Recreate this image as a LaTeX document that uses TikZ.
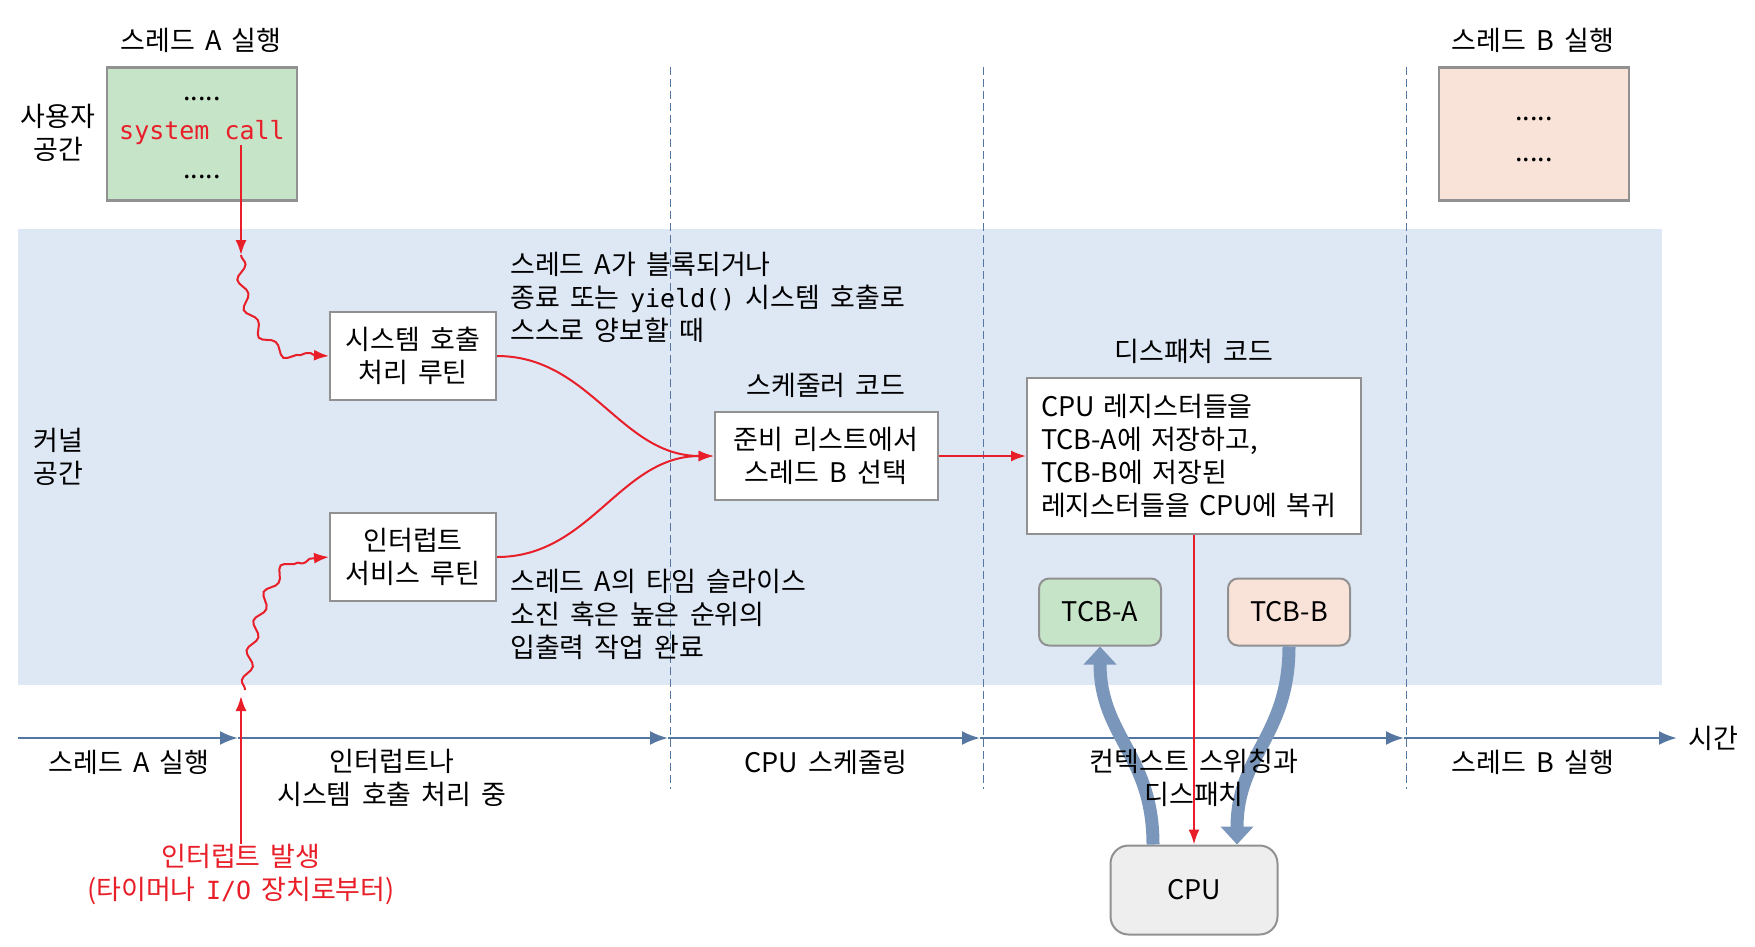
\documentclass[tikz,border=0pt]{standalone}
\usepackage{fontspec}
\setmainfont{Noto Sans CJK KR}[WordSpace=1.7]
\setmonofont{DejaVu Sans Mono}[Scale=0.926]
\usetikzlibrary{arrows.meta}
\usetikzlibrary{decorations.pathmorphing}
\definecolor{kblue}{RGB}{222,232,245}
\definecolor{mred}{RGB}{232,30,40}
\definecolor{steel}{RGB}{84,118,160}
\definecolor{lsteel}{RGB}{122,150,186}
\definecolor{mgreen}{RGB}{198,228,200}
\definecolor{mpeach}{RGB}{249,226,216}
\definecolor{mgray}{RGB}{145,145,145}
\definecolor{cpugray}{RGB}{238,238,238}
\tikzset{txt/.style = {font=\fontsize{27}{33}\selectfont, inner sep=0, align=center}}
\tikzset{ubox/.style = {draw=mgray, line width=2.5pt, minimum width=190pt, minimum height=133pt}}
\tikzset{routine/.style = {txt, draw=mgray, line width=2pt, fill=white,
                           minimum width=166pt, minimum height=88pt}}
\tikzset{tcb/.style = {txt, draw=mgray, line width=2pt, rounded corners=10pt,
                       minimum width=122pt, minimum height=67pt}}
\tikzset{redarrow/.style = {mred, line width=2pt, -{Latex[length=15pt,width=11pt]}}}
\tikzset{wavy/.style = {redarrow, decorate,
                        decoration={snake, amplitude=4.5pt, segment length=30pt, post length=12pt}}}
\tikzset{tline/.style = {steel, line width=2.5pt, -{Latex[length=18pt,width=14pt]}}}
\tikzset{vdash/.style = {steel, line width=1pt, dash pattern=on 8pt off 4pt}}
\tikzset{fat/.style = {lsteel, line width=13pt, -{Triangle[length=18pt,width=32pt]}}}

\begin{document}
\begin{tikzpicture}[x=1pt, y=-1pt]
      \useasboundingbox (0,0) rectangle (1755,946);
      \fill[kblue] (18,229) rectangle (1662,685);
      \draw[vdash] (670,67) -- (670,789);
      \draw[vdash] (983,67) -- (983,789);
      \draw[vdash] (1406,67) -- (1406,789);
      % user space
      \node[ubox, fill=mgreen] (ua) at (202,134) {};
      \node[txt] (ta) at (201,40) {스레드 A 실행};
      \node[txt] (da1) at (202,99) {.....};
      \node[txt, mred] (sc) at (202,133) {\ttfamily system call};
      \node[txt] (da2) at (202,177) {.....};
      \node[ubox, fill=mpeach] (ub) at (1534,134) {};
      \node[txt] (tb) at (1533,40) {스레드 B 실행};
      \node[txt] (db1) at (1534,119) {.....};
      \node[txt] (db2) at (1534,160) {.....};
      \node[txt] (user) at (58,133) {사용자\\공간};
      \node[txt] (kern) at (58,457) {커널\\공간};
      % kernel routines
      \node[routine] (sys) at (413,356) {시스템 호출\\처리 루틴};
      \node[routine] (isr) at (413,557) {인터럽트\\서비스 루틴};
      \node[txt, anchor=west, align=left] (why1) at (510,297)
        {스레드 A가 블록되거나\\종료 또는 \texttt{yield()} 시스템 호출로\\스스로 양보할 때};
      \node[txt, anchor=west, align=left] (why2) at (510,614)
        {스레드 A의 타임 슬라이스\\소진 혹은 높은 순위의\\입출력 작업 완료};
      \node[txt] (schedt) at (826,385) {스케줄러 코드};
      \node[routine, minimum width=223pt] (sched) at (826,456) {준비 리스트에서\\스레드 B 선택};
      \node[txt] (dispt) at (1194,351) {디스패처 코드};
      \node[routine, align=left, text width=306pt, inner xsep=14pt, minimum height=156pt]
        (disp) at (1194,456) {CPU 레지스터들을\\TCB-A에 저장하고,\\TCB-B에 저장된\\레지스터들을 CPU에 복귀};
      \node[tcb, fill=mgreen] (tcba) at (1100,612) {TCB-A};
      \node[tcb, fill=mpeach] (tcbb) at (1289,612) {TCB-B};
      % time line
      \coordinate (t0) at (18,738);
      \coordinate (t1) at (238,738);
      \coordinate (t2) at (668,738);
      \coordinate (t3) at (980,738);
      \coordinate (t4) at (1404,738);
      \coordinate (t5) at (1677,738);
      \draw[tline] (t0) -- (t1);
      \draw[tline] (t1) -- (t2);
      \draw[tline] (t2) -- (t3);
      \draw[tline] (t3) -- (t4);
      \draw[tline] (t4) -- (t5);
      \node[txt, anchor=west] (time) at (1688,738) {시간};
      \node[tcb, rounded corners=18pt, fill=cpugray, minimum width=167pt, minimum height=89pt]
        (cpu) at (1194,890) {CPU};
      \draw[fat] ([xshift=-41pt]cpu.north) .. controls +(0,-90) and +(0,90) .. (tcba.south);
      \draw[fat] (tcbb.south) .. controls +(0,90) and +(0,-90) .. ([xshift=43pt]cpu.north);
      \node[txt] (phase1) at (129,762) {스레드 A 실행};
      \node[txt] (phase2) at (392,778) {인터럽트나\\시스템 호출 처리 중};
      \node[txt] (phase3) at (826,762) {CPU 스케줄링};
      \node[txt] (phase4) at (1194,778) {컨텍스트 스위칭과\\디스패치};
      \node[txt] (phase5) at (1533,762) {스레드 B 실행};
      % red flow
      \node[txt, mred] (irq) at (241,874) {인터럽트 발생\\(타이머나 \texttt{I/O} 장치로부터)};
      \coordinate (irqtip) at (241,696);
      \coordinate (scdown) at (241,255);
      \coordinate (isrwave) at (245,690);
      \draw[redarrow] (scdown |- sc.south) -- (scdown);
      \draw[wavy] (scdown) .. controls +(0,70) and +(-50,0) .. (sys.west);
      \draw[redarrow] (irq.north) -- (irqtip);
      \draw[wavy] (isrwave) .. controls +(12,-90) and +(-50,0) .. (isr.west);
      \draw[redarrow] (sys.east) to[out=0, in=180] (sched.west);
      \draw[redarrow] (isr.east) to[out=0, in=180] (sched.west);
      \draw[redarrow] (sched.east) -- (disp.west);
      \draw[redarrow] (disp.south) -- (cpu.north);
\end{tikzpicture}
\end{document}
